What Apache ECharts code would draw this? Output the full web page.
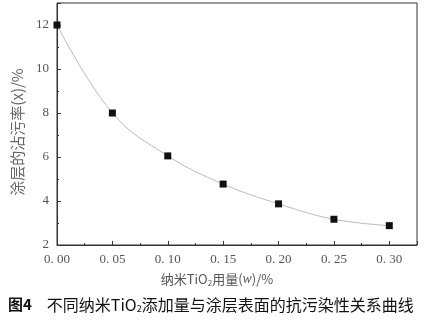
<!DOCTYPE html>
<html><head><meta charset="utf-8">
<script src="https://cdn.jsdelivr.net/npm/echarts@6/dist/echarts.min.js"></script>
<style>html,body{margin:0;padding:0;background:#fff}#c{width:431px;height:324px}</style>
</head><body><div id="c"></div>
<script>
const tio2 = [0.00, 0.05, 0.10, 0.15, 0.20, 0.25, 0.30];
const stain = [12.0, 8.0, 6.05, 4.77, 3.87, 3.17, 2.88];
const xTicks = ['0.00','0.05','0.10','0.15','0.20','0.25','0.30'];
const yTicks = [2, 4, 6, 8, 10, 12];

const chart = echarts.init(document.getElementById('c'));
const serif = 'Liberation Serif, DejaVu Serif, serif';
const cjkSerif = 'Noto Sans CJK SC, serif';
chart.setOption({
  animation: false,
  backgroundColor: '#fff',
  grid: { left: 57, right: 14, top: 3, bottom: 79, show: true, borderColor: '#333', borderWidth: 1, outerBoundsMode: 'none', containLabel: false },
  title: {
    left: 3, top: 291,
    text: '{b|图4}{s|　}{t|不同纳米TiO}{sub|2}{t|添加量与涂层表面的抗污染性关系曲线}',
    textStyle: {
      fontWeight: 'normal',
      rich: {
        b: { fontFamily: 'Noto Sans CJK SC', fontSize: 15, fontWeight: 'bold', color: '#111' },
        s: { fontSize: 15, fontWeight: 'normal' },
        t: { fontFamily: 'Noto Sans CJK SC', fontSize: 16, fontWeight: 'normal', color: '#111' },
        sub: { fontFamily: 'Noto Sans CJK SC', fontSize: 9, fontWeight: 'normal', color: '#111', verticalAlign: 'bottom', padding: [8, 0, 0, 0] }
      }
    }
  },
  xAxis: {
    type: 'value', min: 0, max: 0.325, interval: 0.05,
    name: '{t|纳米TiO}{sub|2}{t|用量(}{i|w}{t|)/%}',
    nameLocation: 'middle', nameGap: 26,
    nameTextStyle: {
      padding: [0, 40, 0, 0],
      rich: {
        t: { fontFamily: cjkSerif, fontSize: 13, color: '#555' },
        i: { fontFamily: serif, fontSize: 14, fontStyle: 'italic', color: '#555' },
        sub: { fontFamily: cjkSerif, fontSize: 8, color: '#555', verticalAlign: 'bottom', padding: [8, 0, 0, 0] }
      }
    },
    axisLine: { lineStyle: { color: '#333' } },
    axisTick: { inside: true, length: 4, lineStyle: { color: '#333' } },
    minorTick: { show: true, splitNumber: 2, length: 2, lineStyle: { color: '#333' } },
    axisLabel: {
      margin: 8, fontFamily: serif, fontSize: 13, color: '#555',
      formatter: v => { const i = Math.round(v / 0.05); return (Math.abs(v - i * 0.05) < 1e-9 && i < xTicks.length) ? xTicks[i].replace('.', '. ') : ''; }
    },
    splitLine: { show: false }
  },
  yAxis: {
    type: 'value', min: 2, max: 13, interval: 2,
    name: '涂层的沾污率(x)/%',
    nameLocation: 'middle', nameGap: 31, nameRotate: 90,
    nameTextStyle: { fontFamily: cjkSerif, fontSize: 15, color: '#666', padding: [0, 16, 0, 0] },
    axisLine: { lineStyle: { color: '#333' } },
    axisTick: { inside: true, length: 4, lineStyle: { color: '#333' } },
    minorTick: { show: true, splitNumber: 2, length: 2, lineStyle: { color: '#333' } },
    axisLabel: {
      margin: 8, fontFamily: serif, fontSize: 13, color: '#555',
      formatter: v => yTicks.indexOf(v) >= 0 ? String(v) : ''
    },
    splitLine: { show: false }
  },
  series: [{
    type: 'line',
    data: tio2.map((x, i) => [x, stain[i]]),
    smooth: 0.4,
    symbol: 'rect', symbolSize: 7,
    itemStyle: { color: '#111' },
    lineStyle: { color: '#bbb', width: 1 },
    clip: false
  }]
});
</script></body></html>
